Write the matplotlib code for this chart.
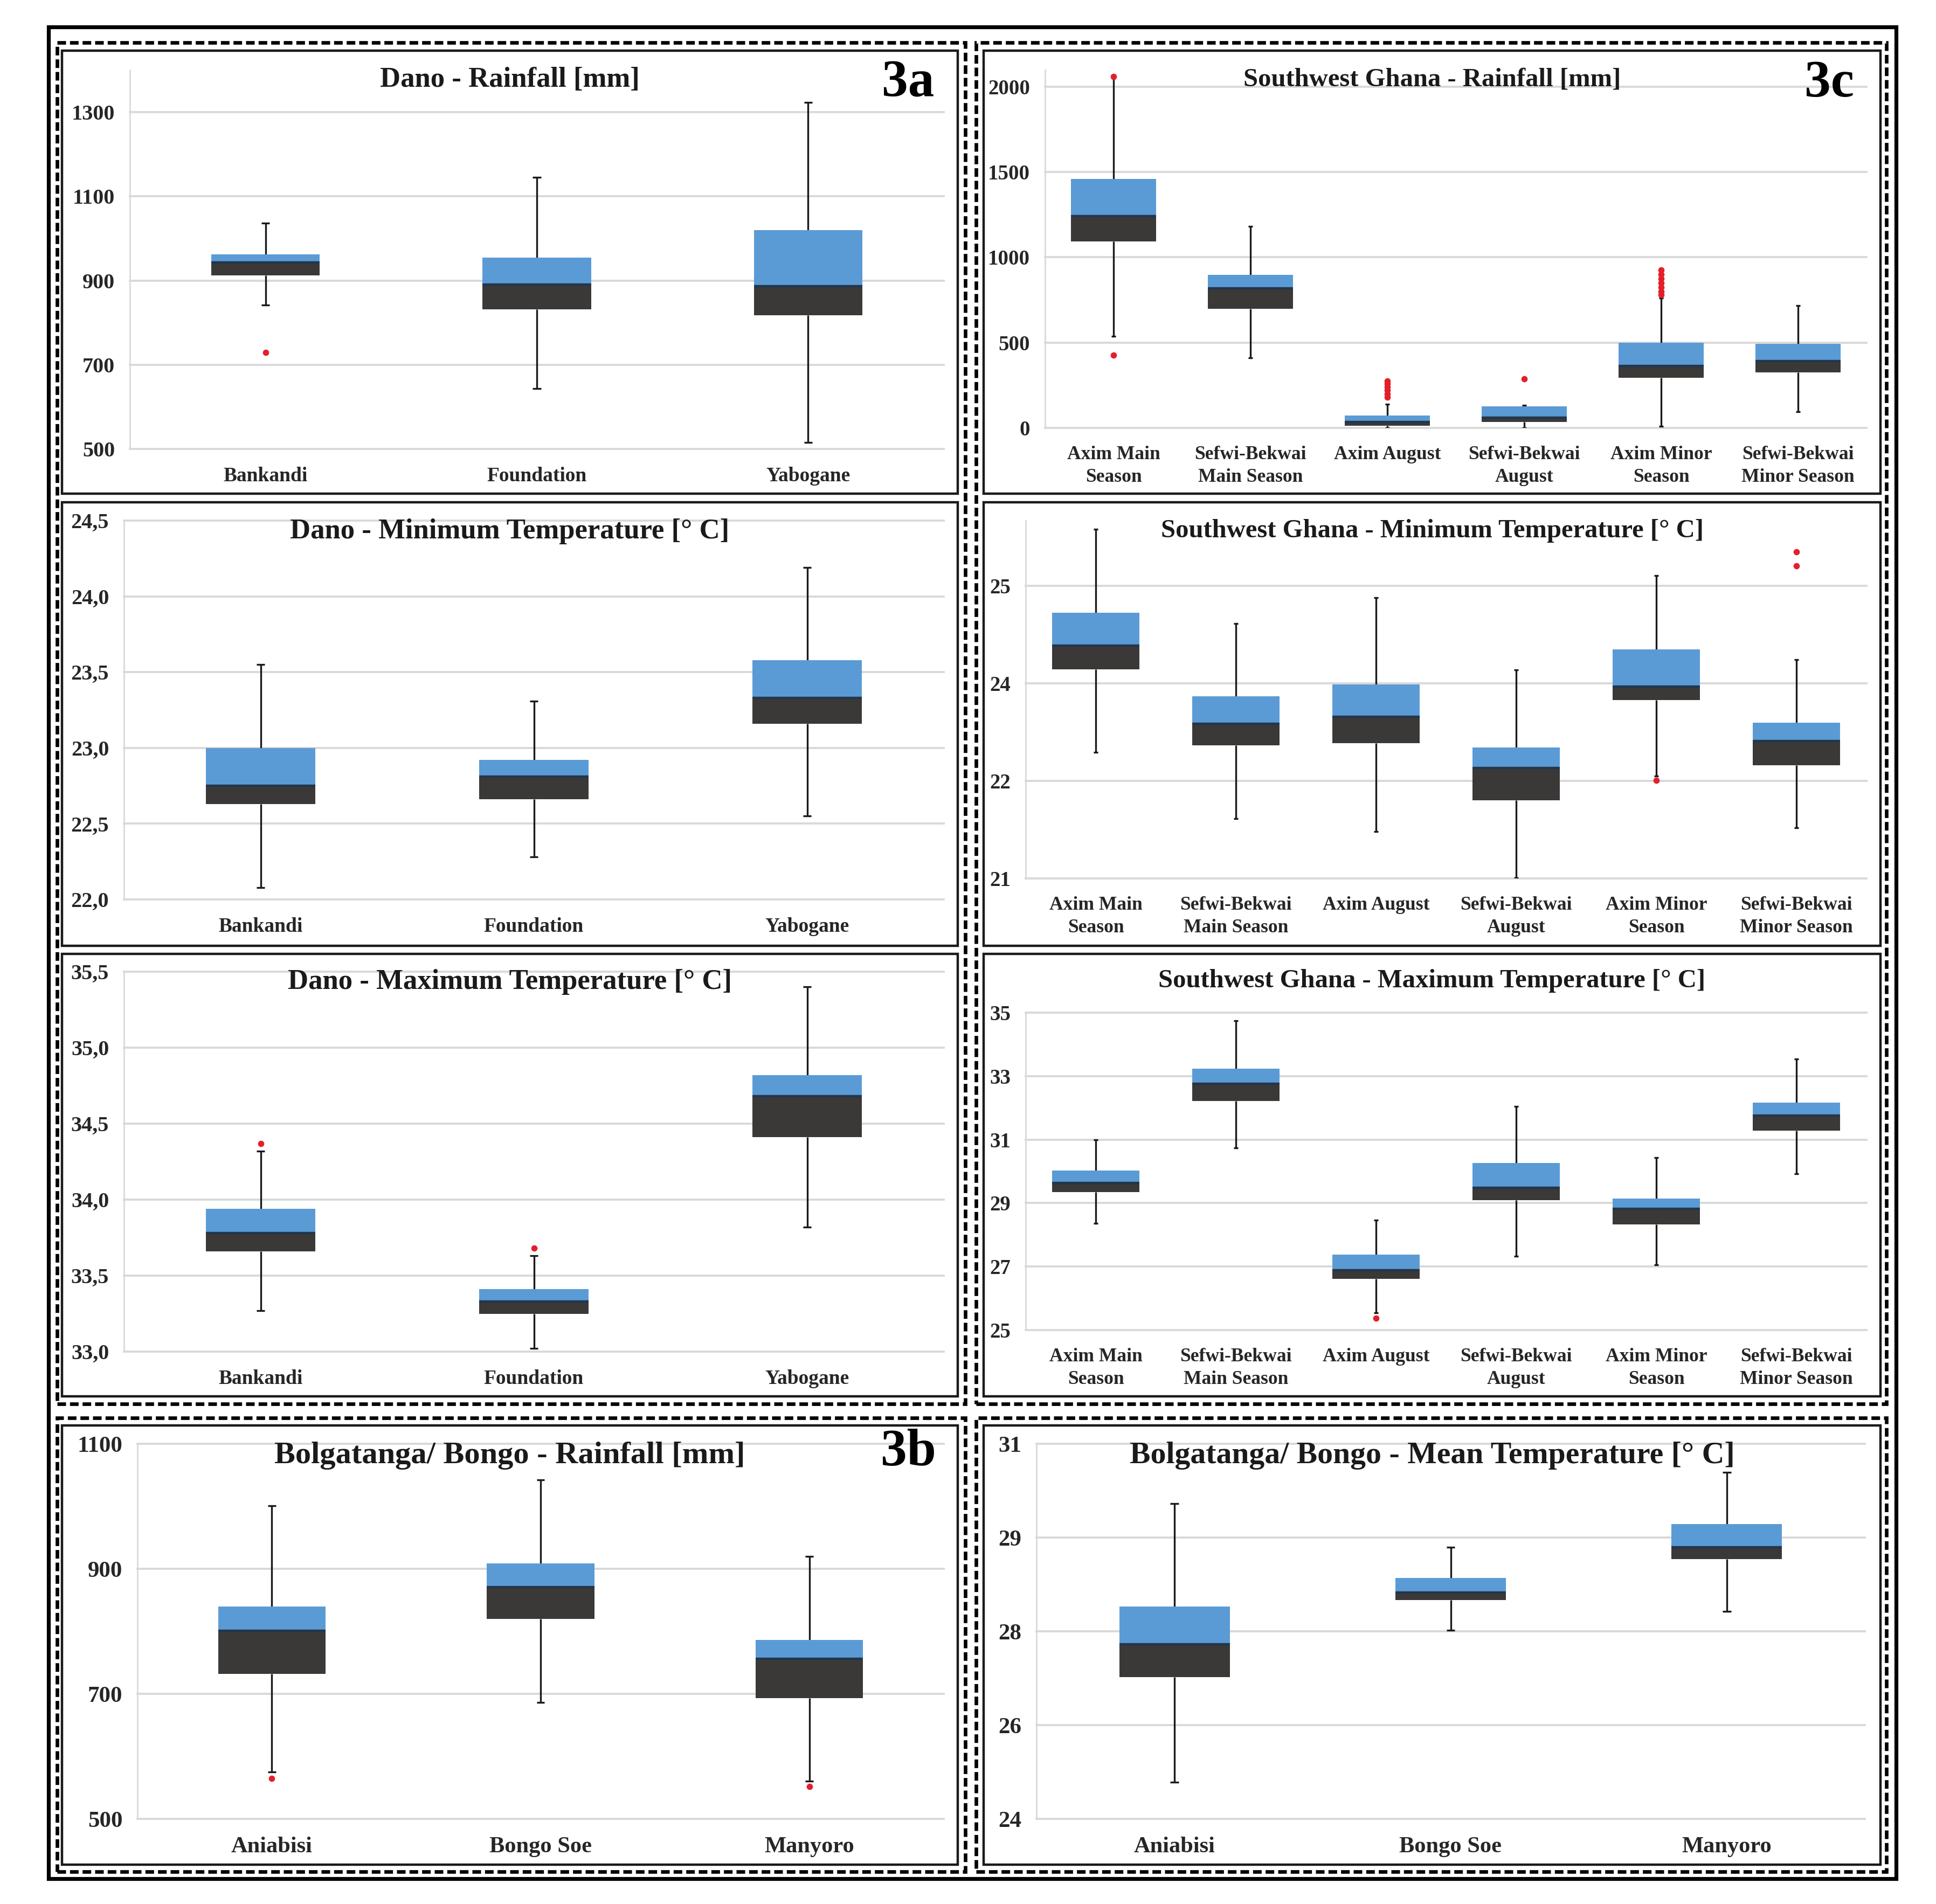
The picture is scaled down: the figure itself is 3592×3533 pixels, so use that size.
import matplotlib
matplotlib.use("Agg")
import matplotlib.pyplot as plt
from matplotlib.patches import Rectangle
import numpy as np

W, H = 3592, 3533
DPI = 200

plt.rcParams['font.family'] = ['Liberation Serif', 'DejaVu Serif']
plt.rcParams['font.weight'] = 'bold'

BLUE = '#5b9bd5'
DARK = '#3b3838'
MEDIAN = '#22364c'
GRID = '#d9d9d9'
RED = '#e3202a'

# ---- data ----
dano_sites = ['Bankandi', 'Foundation', 'Yabogane']
sw_groups = ['Axim Main\nSeason', 'Sefwi-Bekwai\nMain Season', 'Axim August',
             'Sefwi-Bekwai\nAugust', 'Axim Minor\nSeason', 'Sefwi-Bekwai\nMinor Season']
bolga_sites = ['Aniabisi', 'Bongo Soe', 'Manyoro']

# Dano rainfall [mm]
dr_lo = [842, 644, 516]
dr_q1 = [912, 832, 818]
dr_med = [943, 891, 886]
dr_q3 = [962, 954, 1020]
dr_hi = [1036, 1145, 1323]
dr_out = [[729], [], []]

# Dano minimum temperature
dmin_lo = [22.08, 22.28, 22.55]
dmin_q1 = [22.63, 22.66, 23.16]
dmin_med = [22.75, 22.81, 23.33]
dmin_q3 = [23.00, 22.92, 23.58]
dmin_hi = [23.55, 23.31, 24.19]
dmin_out = [[], [], []]

# Dano maximum temperature
dmax_lo = [33.27, 33.02, 33.82]
dmax_q1 = [33.66, 33.25, 34.41]
dmax_med = [33.78, 33.33, 34.68]
dmax_q3 = [33.94, 33.41, 34.82]
dmax_hi = [34.32, 33.63, 35.40]
dmax_out = [[34.37], [33.68], []]

# Southwest Ghana rainfall [mm]
sr_lo = [536, 412, 0, 0, 10, 96]
sr_q1 = [1092, 699, 12, 35, 293, 326]
sr_med = [1241, 818, 35, 60, 364, 393]
sr_q3 = [1460, 897, 73, 125, 498, 494]
sr_hi = [2050, 1182, 140, 134, 760, 718]
sr_out = [[2060, 425], [], [276, 258, 240, 222, 200, 180], [287],
          [925, 900, 875, 850, 825, 800, 780], []]

# Southwest Ghana minimum temperature
smin_lo = [22.72, 21.82, 21.64, 21.01, 22.40, 21.69]
smin_q1 = [23.86, 22.82, 22.85, 22.07, 23.44, 22.55]
smin_med = [24.18, 23.11, 23.21, 22.51, 23.62, 22.88]
smin_q3 = [24.63, 23.49, 23.65, 22.79, 24.13, 23.13]
smin_hi = [25.77, 24.48, 24.84, 23.85, 25.14, 23.99]
smin_out = [[], [], [], [], [22.34], [25.46, 25.27]]

# Southwest Ghana maximum temperature
smax_lo = [28.37, 30.74, 25.55, 27.32, 27.05, 29.93]
smax_q1 = [29.34, 32.22, 26.61, 29.10, 28.32, 31.29]
smax_med = [29.63, 32.76, 26.88, 29.49, 28.82, 31.76]
smax_q3 = [30.02, 33.24, 27.37, 30.27, 29.15, 32.17]
smax_hi = [31.00, 34.74, 28.46, 32.04, 30.44, 33.54]
smax_out = [[], [], [25.38], [], [], []]

# Bolgatanga / Bongo rainfall [mm]
br_lo = [575, 686, 560]
br_q1 = [732, 820, 693]
br_med = [801, 871, 756]
br_q3 = [840, 909, 786]
br_hi = [1001, 1042, 920]
br_out = [[565], [], [552]]

# Bolgatanga / Bongo mean temperature
bt_lo = [24.68, 27.52, 27.87]
bt_q1 = [26.65, 28.08, 28.85]
bt_med = [27.26, 28.22, 29.07]
bt_q3 = [27.96, 28.50, 29.50]
bt_hi = [29.88, 29.07, 30.47]
bt_out = [[], [], []]

# axis ticks and labels
dr_ticks = [500, 700, 900, 1100, 1300]
dr_labels = ['500', '700', '900', '1100', '1300']
dmin_ticks = [22.0, 22.5, 23.0, 23.5, 24.0, 24.5]
dmin_labels = ['22,0', '22,5', '23,0', '23,5', '24,0', '24,5']
dmax_ticks = [33.0, 33.5, 34.0, 34.5, 35.0, 35.5]
dmax_labels = ['33,0', '33,5', '34,0', '34,5', '35,0', '35,5']
sr_ticks = [0, 500, 1000, 1500, 2000]
sr_labels = ['0', '500', '1000', '1500', '2000']
smin_ticks = list(np.linspace(21, 25, 4))
smin_labels = ['21', '22', '24', '25']
smax_ticks = [25, 27, 29, 31, 33, 35]
smax_labels = ['25', '27', '29', '31', '33', '35']
br_ticks = [500, 700, 900, 1100]
br_labels = ['500', '700', '900', '1100']
bt_ticks = list(np.linspace(24, 31, 5))
bt_labels = ['24', '26', '28', '29', '31']

fig = plt.figure(figsize=(W / DPI, H / DPI), dpi=DPI)
fig.patch.set_facecolor('white')


def fx(x):
    return x / W


def fy(y):
    return 1 - y / H


def add_rect(x0, y0, x1, y1, **kw):
    r = Rectangle((fx(x0), fy(y1)), (x1 - x0) / W, (y1 - y0) / H,
                  transform=fig.transFigure, fill=False, **kw)
    fig.add_artist(r)


def draw_panel(box, cats, lo, q1, med, q3, hi, out, ylim, ticks, labels,
               width, catsize, ticksize):
    x0, y0, x1, y1 = box
    ax = fig.add_axes([fx(x0), fy(y1), (x1 - x0) / W, (y1 - y0) / H])
    x = np.arange(len(cats))
    lo, q1, med, q3, hi = map(np.asarray, (lo, q1, med, q3, hi))
    ax.vlines(x, q3, hi, color='#1a1a1a', lw=1.2, zorder=2)
    ax.vlines(x, lo, q1, color='#1a1a1a', lw=1.2, zorder=2)
    ax.hlines(hi, x - 0.015, x + 0.015, color='#1a1a1a', lw=1.2, zorder=2)
    ax.hlines(lo, x - 0.015, x + 0.015, color='#1a1a1a', lw=1.2, zorder=2)
    ax.bar(x, med - q1, bottom=q1, width=width, color=DARK, zorder=3)
    ax.bar(x, q3 - med, bottom=med, width=width, color=BLUE, zorder=3)
    ax.hlines(med, x - width / 2, x + width / 2, color=MEDIAN, lw=1.6, zorder=4)
    for i, pts in enumerate(out):
        if pts:
            ax.plot([i] * len(pts), pts, 'o', color=RED, ms=4.2, mec='none',
                    zorder=5, clip_on=False)
    ax.set_xlim(-0.5, len(cats) - 0.5)
    ax.set_ylim(*ylim)
    ax.set_yticks(ticks)
    ax.set_yticklabels(labels, fontsize=ticksize, fontweight='bold', color='#262626')
    ax.set_xticks(x)
    ax.set_xticklabels(cats, fontsize=catsize, fontweight='bold', color='#262626',
                       linespacing=1.35)
    ax.tick_params(axis='y', length=0, pad=10)
    ax.tick_params(axis='x', length=0, pad=12)
    ax.yaxis.grid(True, color=GRID, lw=1.4)
    for gl in ax.get_ygridlines():
        gl.set_clip_on(False)
    ax.set_axisbelow(True)
    for s in ['top', 'right', 'bottom']:
        ax.spines[s].set_visible(False)
    ax.spines['left'].set_color(GRID)
    ax.spines['left'].set_linewidth(1.0)
    ax.set_facecolor('none')
    return ax


# panel frames, titles and plots
panels = [
    # frame, axes box, title, title y, title size, data..., box width, label sizes
    ((115, 94, 1777, 916), (241, 130, 1751, 833), 'Dano - Rainfall [mm]', 148, 19,
     dano_sites, dr_lo, dr_q1, dr_med, dr_q3, dr_hi, dr_out, (500, 1400),
     dr_ticks, dr_labels, 0.4, 13.5, 14.5),
    ((115, 932, 1777, 1755), (230, 966, 1751, 1669), 'Dano - Minimum Temperature [° C]', 986, 19,
     dano_sites, dmin_lo, dmin_q1, dmin_med, dmin_q3, dmin_hi, dmin_out, (22.0, 24.5),
     dmin_ticks, dmin_labels, 0.4, 13.5, 14.5),
    ((115, 1770, 1777, 2591), (230, 1803, 1751, 2508), 'Dano - Maximum Temperature [° C]', 1822, 19,
     dano_sites, dmax_lo, dmax_q1, dmax_med, dmax_q3, dmax_hi, dmax_out, (33.0, 35.5),
     dmax_ticks, dmax_labels, 0.4, 13.5, 14.5),
    ((1825, 94, 3489, 916), (1939, 130, 3463, 794), 'Southwest Ghana - Rainfall [mm]', 148, 17.5,
     sw_groups, sr_lo, sr_q1, sr_med, sr_q3, sr_hi, sr_out, (0, 2097),
     sr_ticks, sr_labels, 0.62, 12.8, 14),
    ((1825, 932, 3489, 1755), (1903, 966, 3463, 1630), 'Southwest Ghana - Minimum Temperature [° C]', 985, 17.5,
     sw_groups, smin_lo, smin_q1, smin_med, smin_q3, smin_hi, smin_out, (21, 25.89),
     smin_ticks, smin_labels, 0.62, 12.8, 14),
    ((1825, 1770, 3489, 2591), (1903, 1879, 3463, 2468), 'Southwest Ghana - Maximum Temperature [° C]', 1820, 17.5,
     sw_groups, smax_lo, smax_q1, smax_med, smax_q3, smax_hi, smax_out, (25, 35),
     smax_ticks, smax_labels, 0.62, 12.8, 14),
    ((115, 2645, 1777, 3460), (255, 2679, 1751, 3375), 'Bolgatanga/ Bongo - Rainfall [mm]', 2701, 21,
     bolga_sites, br_lo, br_q1, br_med, br_q3, br_hi, br_out, (500, 1100),
     br_ticks, br_labels, 0.4, 15.3, 15.5),
    ((1825, 2645, 3489, 3460), (1923, 2679, 3460, 3375), 'Bolgatanga/ Bongo - Mean Temperature [° C]', 2701, 20.8,
     bolga_sites, bt_lo, bt_q1, bt_med, bt_q3, bt_hi, bt_out, (24, 31),
     bt_ticks, bt_labels, 0.4, 15.3, 15.5),
]

for (frame, box, title, ty, tsize, cats, lo, q1, med, q3, hi, out, ylim, ticks, labels,
     width, catsize, ticksize) in panels:
    draw_panel(box, cats, lo, q1, med, q3, hi, out, ylim, ticks, labels, width,
               catsize, ticksize)
    add_rect(*frame, lw=1.6, edgecolor='#1a1a1a')
    fig.text(fx((frame[0] + frame[2]) / 2), fy(ty), title, ha='center', va='center',
             fontsize=tsize, fontweight='bold', color='#1a1a1a')

# panel letters
fig.text(fx(1685), fy(155), '3a', ha='center', va='center', fontsize=35, fontweight='bold')
fig.text(fx(3394), fy(155), '3c', ha='center', va='center', fontsize=35, fontweight='bold')
fig.text(fx(1685), fy(2695), '3b', ha='center', va='center', fontsize=35, fontweight='bold')

# dashed group frames and the outer border
dash = dict(lw=2.4, edgecolor='black', linestyle=(0, (2.4, 1.1)))
add_rect(106, 79, 1791, 2605, **dash)
add_rect(1811, 79, 3500, 2605, **dash)
add_rect(106, 2631, 1791, 3473, **dash)
add_rect(1811, 2631, 3500, 3473, **dash)
add_rect(90, 50, 3518, 3486, lw=2.6, edgecolor='black')

fig.savefig('out.png', dpi=DPI, facecolor='white')
